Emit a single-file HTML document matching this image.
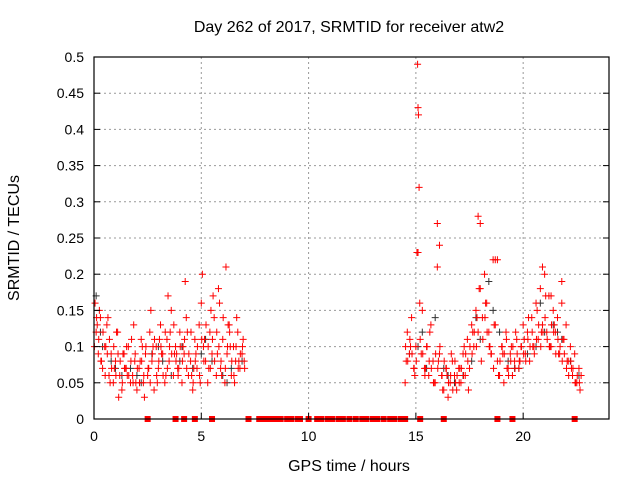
<!DOCTYPE html>
<html><head><meta charset="utf-8"><style>
body{margin:0;background:#fff;font-family:"Liberation Sans",sans-serif}
</style></head><body>
<svg id="c" width="640" height="480" xmlns="http://www.w3.org/2000/svg" font-family="Liberation Sans, sans-serif" font-size="14">
<rect width="640" height="480" fill="#fff"/>
<g id="grid"></g><g id="pts"></g><g id="axes"></g>
</svg>
<script>
const xTicks=[0,5,10,15,20];
const yTicks=[0,0.05,0.1,0.15,0.2,0.25,0.3,0.35,0.4,0.45,0.5];
const yTickLabels=["0","0.05","0.1","0.15","0.2","0.25","0.3","0.35","0.4","0.45","0.5"];
// red series: [hour, value]
const redT=[0.05,0.1,0.2,0.3,0.4,0.5,0.6,0.7,0.8,0.9,1.0,1.1,1.2,1.3,1.4,1.5,1.6,1.7,1.8,1.9,2.0,2.1,2.2,2.3,2.4,2.5,2.6,2.7,2.8,2.9,3.0,3.1,3.2,3.3,3.4,3.5,3.6,3.7,3.8,3.9,4.0,4.1,4.2,4.3,4.4,4.5,4.6,4.7,4.8,4.9,5.0,5.1,5.2,5.3,5.4,5.5,5.6,5.7,5.8,5.9,6.0,6.1,6.2,6.3,6.4,6.5,6.6,6.7,6.8,6.9,7.0,
0.15,0.35,0.55,0.75,0.95,1.15,1.35,1.55,1.75,1.95,2.15,2.35,2.55,2.75,2.95,3.15,3.35,3.55,3.75,3.95,4.15,4.35,4.55,4.75,4.95,5.15,5.35,5.55,5.75,5.95,6.15,6.35,6.55,6.75,6.95,
0.25,0.65,1.05,1.45,1.85,2.25,2.65,3.05,3.45,3.85,4.25,4.65,5.05,5.45,5.85,6.25,6.65,
0.02,0.12,0.22,0.32,0.42,0.52,0.62,0.72,0.82,0.92,1.02,1.12,1.22,1.32,1.42,1.52,1.62,1.72,1.82,1.92,2.02,2.12,2.22,2.32,2.42,2.52,2.62,2.72,2.82,2.92,3.02,3.12,3.22,3.32,3.42,3.52,3.62,3.72,3.82,3.92,4.02,4.12,4.22,4.32,4.42,4.52,4.62,4.72,4.82,4.92,5.02,5.12,5.22,5.32,5.42,5.52,5.62,5.72,5.82,5.92,6.02,6.12,6.22,6.32,6.42,6.52,6.62,6.72,6.82,6.92,7.02,
14.5,14.6,14.7,14.8,14.9,15.0,15.05,15.1,15.15,15.2,15.3,15.4,15.5,15.6,15.7,15.8,15.9,16.0,16.1,16.2,16.3,16.4,16.5,16.6,16.7,16.8,16.9,17.0,17.1,17.2,17.3,17.4,17.5,17.6,17.7,17.8,17.9,18.0,18.1,18.2,18.3,18.4,18.5,18.6,18.7,18.8,18.9,19.0,19.1,19.2,19.3,19.4,19.5,19.6,19.7,19.8,19.9,20.0,20.1,20.2,20.3,20.4,20.5,20.6,20.7,20.8,20.9,21.0,21.1,21.2,21.3,21.4,21.5,21.6,21.7,21.8,21.9,22.0,22.1,22.2,22.3,22.4,22.5,22.6,22.7,
14.55,14.75,14.95,15.25,15.45,15.65,15.85,16.05,16.25,16.45,16.65,16.85,17.05,17.25,17.45,17.65,17.85,18.05,18.25,18.45,18.65,18.85,19.05,19.25,19.45,19.65,19.85,20.05,20.25,20.45,20.65,20.85,21.05,21.25,21.45,21.65,21.85,22.05,22.25,22.45,22.65,
14.52,14.62,14.72,14.82,14.92,15.02,15.32,15.42,15.52,15.62,15.72,15.82,15.92,16.02,16.12,16.22,16.32,16.42,16.52,16.62,16.72,16.82,16.92,17.02,17.12,17.22,17.32,17.42,17.52,17.62,17.72,17.82,18.12,18.22,18.32,18.42,18.52,18.62,18.92,19.02,19.12,19.22,19.32,19.42,19.52,19.62,19.72,19.82,19.92,20.02,20.12,20.22,20.32,20.42,20.52,20.62,20.72,20.82,20.92,21.02,21.12,21.22,21.32,21.42,21.52,21.62,21.72,21.82,21.92,22.02,22.12,22.22,22.32,22.42,22.52,22.62,
15.08,15.12,15.18,16.0,16.1,17.9,18.0,18.7,18.8,21.8,20.9,21.3,17.95,15.1];
const redV=[0.16,0.12,0.09,0.14,0.07,0.1,0.13,0.06,0.09,0.05,0.08,0.12,0.06,0.04,0.09,0.07,0.1,0.05,0.06,0.08,0.04,0.07,0.11,0.05,0.09,0.06,0.12,0.08,0.04,0.1,0.07,0.13,0.09,0.05,0.11,0.08,0.15,0.06,0.1,0.07,0.12,0.05,0.09,0.14,0.06,0.08,0.04,0.11,0.07,0.13,0.16,0.1,0.08,0.05,0.12,0.09,0.14,0.06,0.18,0.07,0.11,0.05,0.09,0.13,0.06,0.1,0.08,0.12,0.07,0.09,0.08,
0.13,0.08,0.1,0.05,0.07,0.03,0.09,0.06,0.11,0.05,0.08,0.03,0.07,0.1,0.05,0.09,0.06,0.12,0.09,0.07,0.1,0.12,0.06,0.09,0.05,0.11,0.07,0.17,0.09,0.06,0.21,0.1,0.05,0.08,0.11,
0.15,0.14,0.12,0.07,0.13,0.1,0.15,0.11,0.17,0.09,0.19,0.07,0.2,0.15,0.16,0.13,0.14,
0.1,0.14,0.11,0.08,0.12,0.06,0.09,0.11,0.07,0.1,0.06,0.09,0.08,0.05,0.07,0.1,0.06,0.08,0.05,0.09,0.07,0.05,0.08,0.06,0.1,0.07,0.05,0.09,0.11,0.06,0.08,0.1,0.06,0.12,0.07,0.1,0.09,0.13,0.08,0.06,0.1,0.08,0.11,0.07,0.09,0.12,0.05,0.08,0.1,0.06,0.11,0.08,0.13,0.1,0.07,0.11,0.08,0.12,0.1,0.08,0.14,0.07,0.1,0.12,0.08,0.06,0.1,0.07,0.09,0.1,0.07,
0.05,0.12,0.09,0.14,0.07,0.1,0.23,0.43,0.32,0.11,0.15,0.07,0.1,0.06,0.13,0.08,0.05,0.21,0.09,0.06,0.04,0.07,0.03,0.05,0.08,0.06,0.04,0.07,0.05,0.09,0.06,0.11,0.07,0.13,0.1,0.15,0.12,0.18,0.14,0.2,0.16,0.12,0.09,0.22,0.13,0.08,0.06,0.1,0.05,0.12,0.07,0.09,0.06,0.08,0.11,0.07,0.1,0.13,0.09,0.12,0.08,0.14,0.1,0.16,0.11,0.18,0.13,0.2,0.12,0.17,0.1,0.15,0.12,0.14,0.09,0.16,0.11,0.13,0.08,0.1,0.06,0.09,0.05,0.07,0.06,
0.08,0.1,0.06,0.09,0.07,0.12,0.05,0.08,0.04,0.06,0.09,0.05,0.07,0.1,0.04,0.12,0.14,0.08,0.16,0.1,0.13,0.06,0.09,0.07,0.1,0.12,0.08,0.11,0.14,0.1,0.15,0.12,0.17,0.1,0.13,0.09,0.11,0.08,0.07,0.05,0.04,
0.1,0.08,0.11,0.09,0.07,0.08,0.09,0.06,0.1,0.08,0.07,0.05,0.09,0.07,0.1,0.06,0.08,0.07,0.05,0.06,0.04,0.08,0.06,0.05,0.07,0.06,0.09,0.08,0.1,0.09,0.12,0.1,0.11,0.14,0.12,0.1,0.09,0.07,0.08,0.1,0.09,0.11,0.06,0.08,0.1,0.07,0.09,0.08,0.1,0.09,0.08,0.11,0.1,0.12,0.09,0.11,0.13,0.1,0.12,0.14,0.11,0.1,0.13,0.12,0.09,0.11,0.1,0.08,0.09,0.07,0.06,0.08,0.07,0.05,0.06,0.05,
0.49,0.42,0.16,0.27,0.24,0.28,0.27,0.22,0.22,0.19,0.21,0.17,0.18,0.23];
// black series
const blkT=[0.1,0.4,0.8,1.3,1.7,2.2,2.7,3.2,3.6,4.1,4.6,5.0,5.5,6.0,6.4,6.9,14.7,15.1,15.5,15.9,16.3,16.8,17.2,17.6,18.0,18.4,18.9,19.3,19.8,20.2,20.6,21.0,21.4,21.8,22.2,22.6,0.3,1.0,2.0,3.0,4.0,5.2,6.2,15.3,16.5,17.8,18.6,19.6,20.8,21.6];
const blkV=[0.17,0.1,0.08,0.06,0.07,0.05,0.09,0.08,0.06,0.1,0.07,0.09,0.08,0.06,0.07,0.08,0.09,0.1,0.07,0.14,0.07,0.05,0.06,0.08,0.11,0.19,0.12,0.08,0.07,0.09,0.1,0.12,0.13,0.11,0.08,0.06,0.12,0.07,0.06,0.1,0.08,0.11,0.05,0.12,0.06,0.14,0.15,0.07,0.16,0.12];
// zero-value markers (hours)
const zeroT=[2.5,3.8,4.2,4.7,5.5,7.2,7.7,7.9,8.1,8.3,8.5,8.7,9.0,9.2,9.5,9.6,10.0,10.4,10.6,10.9,11.1,11.4,11.6,11.9,12.2,12.5,12.7,13.0,13.2,13.5,13.8,14.0,14.3,14.5,15.2,16.3,18.8,19.5,22.4];
const X0=94,X1=609,Y0=419,Y1=57,XMAX=24,YMAX=0.5;
const sx=v=>X0+(X1-X0)*v/XMAX, sy=v=>Y0-(Y0-Y1)*v/YMAX;
const NS="http://www.w3.org/2000/svg";
function mk(p,t,a){const e=document.createElementNS(NS,t);for(const k in a)e.setAttribute(k,a[k]);p.appendChild(e);return e;}
const G=document.getElementById('grid'),P=document.getElementById('pts'),A=document.getElementById('axes');
xTicks.forEach(v=>{if(v>0){const l=mk(G,'line',{x1:sx(v),x2:sx(v),y1:Y0,y2:Y1,stroke:'#999','stroke-dasharray':'2,3'});
}
const t=mk(A,'text',{x:sx(v),y:Y0+22,'text-anchor':'middle',fill:'#000'});t.textContent=v;

mk(A,'line',{x1:sx(v),x2:sx(v),y1:Y0,y2:Y0-6,stroke:'#000'});});
yTicks.forEach((v,i)=>{if(v>0&&v<YMAX){const l=mk(G,'line',{x1:X0,x2:X1,y1:sy(v),y2:sy(v),stroke:'#999','stroke-dasharray':'2,3'});
}
const t=mk(A,'text',{x:X0-10,y:sy(v)+5,'text-anchor':'end',fill:'#000'});t.textContent=yTickLabels[i];

mk(A,'line',{x1:X0,x2:X0+6,y1:sy(v),y2:sy(v),stroke:'#000'});mk(A,'line',{x1:X1,x2:X1-6,y1:sy(v),y2:sy(v),stroke:'#000'});});
function plus(t,v,c,n){const g=mk(P,'path',{d:`M${sx(t)-3.5},${sy(v)}h7M${sx(t)},${sy(v)-3.5}v7`,stroke:c,'stroke-width':1});
}
blkT.forEach((t,i)=>plus(t,blkV[i],'#333','black-point'));
redT.forEach((t,i)=>plus(t,redV[i],'#f00','red-point'));
zeroT.forEach(t=>{const r=mk(P,'rect',{x:sx(t)-3,y:Y0-3,width:6,height:6,fill:'#f00'});
});
const f=mk(A,'rect',{x:X0,y:Y1,width:X1-X0,height:Y0-Y1,fill:'none',stroke:'#000','stroke-width':1.2});

const ti=mk(A,'text',{x:349,y:32,'text-anchor':'middle','font-size':16});ti.textContent='Day 262 of 2017, SRMTID for receiver atw2';

const xl=mk(A,'text',{x:349,y:471,'text-anchor':'middle','font-size':16});xl.textContent='GPS time / hours';

const yl=mk(A,'text',{x:19,y:238,'text-anchor':'middle','font-size':16,transform:'rotate(-90 19 238)'});yl.textContent='SRMTID / TECUs';

</script>
</body></html>
